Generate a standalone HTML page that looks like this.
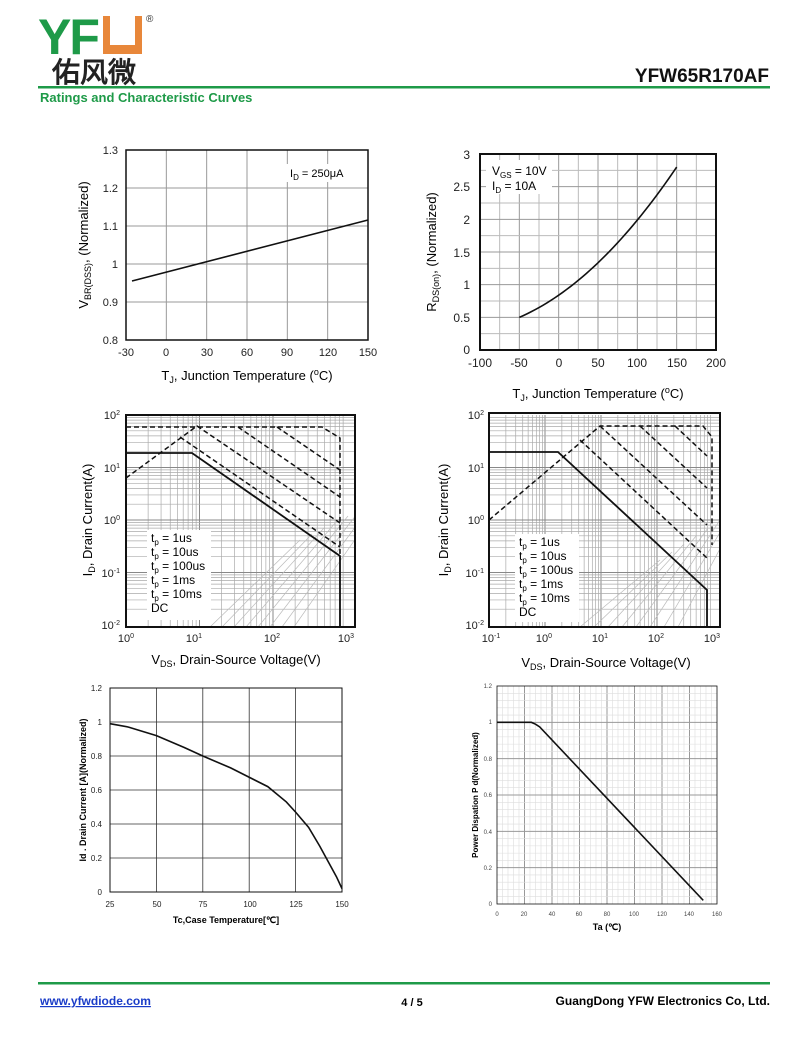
<!DOCTYPE html>
<html><head><meta charset="utf-8"><style>
body{margin:0;background:#fff;}
#w{position:relative;width:800px;height:1039px;overflow:hidden;font-family:"Liberation Sans",Arial,sans-serif;}
svg text{font-family:"Liberation Sans",Arial,sans-serif;}
</style></head><body><div id="w">
<svg id="s" width="800" height="1039" viewBox="0 0 800 1039" xmlns="http://www.w3.org/2000/svg">
<defs>
<clipPath id="c3"><rect x="126" y="415" width="229" height="212"/></clipPath>
<clipPath id="c4"><rect x="489" y="413" width="231" height="214"/></clipPath>
</defs>
<!-- header -->
<text x="38" y="54" font-size="50" font-weight="bold" fill="#1e9a48" letter-spacing="-2">YF</text>
<rect x="103" y="16" width="39" height="38" fill="#e8873a"/>
<rect x="110" y="16" width="25" height="29" fill="#fff"/>
<text x="146" y="22" font-size="10" fill="#333">®</text>
<text x="52" y="82" font-size="28" font-weight="bold" fill="#222" font-family="'Noto Sans CJK SC',sans-serif">佑风微</text>
<text x="769" y="82" font-size="19" font-weight="bold" fill="#111" text-anchor="end">YFW65R170AF</text>
<rect x="38" y="86" width="732" height="2.5" fill="#1e9a48"/>
<text x="40" y="102" font-size="13" font-weight="bold" fill="#1e9a48">Ratings and Characteristic Curves</text>
<!-- footer -->
<rect x="38" y="982" width="732" height="2.5" fill="#1e9a48"/>
<text x="40" y="1005" font-size="12" font-weight="bold" fill="#1a3cc8" text-decoration="underline">www.yfwdiode.com</text>
<text x="412" y="1006" font-size="11" font-weight="bold" text-anchor="middle">4 / 5</text>
<text x="770" y="1005" font-size="12" font-weight="bold" text-anchor="end">GuangDong YFW Electronics Co, Ltd.</text>
<g id="g"></g>

<!-- chart1 labels -->
<g font-size="11" fill="#222" text-anchor="end">
<text x="118" y="154">1.3</text><text x="118" y="192">1.2</text><text x="118" y="230">1.1</text><text x="118" y="268">1</text><text x="118" y="306">0.9</text><text x="118" y="344">0.8</text></g>
<g font-size="11" fill="#222" text-anchor="middle">
<text x="126" y="356">-30</text><text x="166" y="356">0</text><text x="207" y="356">30</text><text x="247" y="356">60</text><text x="287" y="356">90</text><text x="328" y="356">120</text><text x="368" y="356">150</text></g>
<text x="247" y="380" font-size="13" text-anchor="middle">T<tspan font-size="9" dy="3">J</tspan><tspan dy="-3">, Junction Temperature (</tspan><tspan font-size="9" dy="-5">o</tspan><tspan dy="5">C)</tspan></text>
<text transform="translate(88,245) rotate(-90)" font-size="13" text-anchor="middle">V<tspan font-size="9" dy="3">BR(DSS)</tspan><tspan dy="-3">, (Normalized)</tspan></text>
<rect x="286" y="164" width="76" height="18" fill="#fff"/>
<text x="290" y="177" font-size="11">I<tspan font-size="8" dy="3">D</tspan><tspan dy="-3"> = 250μA</tspan></text>

<!-- chart2 labels -->
<g font-size="12" fill="#222" text-anchor="end">
<text x="470" y="159">3</text><text x="470" y="191">2.5</text><text x="470" y="224">2</text><text x="470" y="257">1.5</text><text x="470" y="289">1</text><text x="470" y="322">0.5</text><text x="470" y="354">0</text></g>
<g font-size="12" fill="#222" text-anchor="middle">
<text x="480" y="367">-100</text><text x="519" y="367">-50</text><text x="559" y="367">0</text><text x="598" y="367">50</text><text x="637" y="367">100</text><text x="677" y="367">150</text><text x="716" y="367">200</text></g>
<text x="598" y="398" font-size="13" text-anchor="middle">T<tspan font-size="9" dy="3">J</tspan><tspan dy="-3">, Junction Temperature (</tspan><tspan font-size="9" dy="-5">o</tspan><tspan dy="5">C)</tspan></text>
<text transform="translate(436,252) rotate(-90)" font-size="13" text-anchor="middle">R<tspan font-size="9" dy="3">DS(on)</tspan><tspan dy="-3">, (Normalized)</tspan></text>
<rect x="486" y="160" width="66" height="34" fill="#fff"/>
<text x="492" y="175" font-size="12">V<tspan font-size="8" dy="3">GS</tspan><tspan dy="-3"> = 10V</tspan></text>
<text x="492" y="190" font-size="12">I<tspan font-size="8" dy="3">D</tspan><tspan dy="-3"> = 10A</tspan></text>

<!-- chart3 labels -->
<g font-size="11" fill="#222" text-anchor="end">
<text x="120" y="419">10<tspan font-size="7" dy="-4">2</tspan></text><text x="120" y="472">10<tspan font-size="7" dy="-4">1</tspan></text><text x="120" y="524">10<tspan font-size="7" dy="-4">0</tspan></text><text x="120" y="577">10<tspan font-size="7" dy="-4">-1</tspan></text><text x="120" y="629">10<tspan font-size="7" dy="-4">-2</tspan></text></g>
<g font-size="11" fill="#222" text-anchor="middle">
<text x="126" y="642">10<tspan font-size="7" dy="-4">0</tspan></text><text x="194" y="642">10<tspan font-size="7" dy="-4">1</tspan></text><text x="272" y="642">10<tspan font-size="7" dy="-4">2</tspan></text><text x="346" y="642">10<tspan font-size="7" dy="-4">3</tspan></text></g>
<text x="236" y="664" font-size="13" text-anchor="middle">V<tspan font-size="9" dy="3">DS</tspan><tspan dy="-3">, Drain-Source Voltage(V)</tspan></text>
<text transform="translate(92,520) rotate(-90)" font-size="13" text-anchor="middle">I<tspan font-size="9" dy="3">D</tspan><tspan dy="-3">, Drain Current(A)</tspan></text>

<!-- chart4 labels -->
<g font-size="11" fill="#222" text-anchor="end">
<text x="484" y="419">10<tspan font-size="7" dy="-4">2</tspan></text><text x="484" y="472">10<tspan font-size="7" dy="-4">1</tspan></text><text x="484" y="524">10<tspan font-size="7" dy="-4">0</tspan></text><text x="484" y="577">10<tspan font-size="7" dy="-4">-1</tspan></text><text x="484" y="629">10<tspan font-size="7" dy="-4">-2</tspan></text></g>
<g font-size="11" fill="#222" text-anchor="middle">
<text x="491" y="642">10<tspan font-size="7" dy="-4">-1</tspan></text><text x="544" y="642">10<tspan font-size="7" dy="-4">0</tspan></text><text x="600" y="642">10<tspan font-size="7" dy="-4">1</tspan></text><text x="656" y="642">10<tspan font-size="7" dy="-4">2</tspan></text><text x="712" y="642">10<tspan font-size="7" dy="-4">3</tspan></text></g>
<text x="606" y="667" font-size="13" text-anchor="middle">V<tspan font-size="9" dy="3">DS</tspan><tspan dy="-3">, Drain-Source Voltage(V)</tspan></text>
<text transform="translate(448,520) rotate(-90)" font-size="13" text-anchor="middle">I<tspan font-size="9" dy="3">D</tspan><tspan dy="-3">, Drain Current(A)</tspan></text>

<!-- chart5 labels -->
<g font-size="8" fill="#222" text-anchor="end">
<text x="102" y="691">1.2</text><text x="102" y="725">1</text><text x="102" y="759">0.8</text><text x="102" y="793">0.6</text><text x="102" y="827">0.4</text><text x="102" y="861">0.2</text><text x="102" y="895">0</text></g>
<g font-size="8" fill="#222" text-anchor="middle">
<text x="110" y="907">25</text><text x="157" y="907">50</text><text x="203" y="907">75</text><text x="250" y="907">100</text><text x="296" y="907">125</text><text x="342" y="907">150</text></g>
<text x="226" y="923" font-size="9" font-weight="bold" text-anchor="middle">Tc,Case Temperature[℃]</text>
<text transform="translate(86,790) rotate(-90)" font-size="9" font-weight="bold" text-anchor="middle">Id . Drain Current [A](Normalized)</text>

<!-- chart6 labels -->
<g font-size="6" fill="#444" text-anchor="end">
<text x="492" y="688">1.2</text><text x="492" y="724">1</text><text x="492" y="761">0.8</text><text x="492" y="797">0.6</text><text x="492" y="834">0.4</text><text x="492" y="870">0.2</text><text x="492" y="906">0</text></g>
<g font-size="6" fill="#444" text-anchor="middle">
<text x="497" y="916">0</text><text x="524" y="916">20</text><text x="552" y="916">40</text><text x="579" y="916">60</text><text x="607" y="916">80</text><text x="634" y="916">100</text><text x="662" y="916">120</text><text x="689" y="916">140</text><text x="717" y="916">160</text></g>
<text x="607" y="930" font-size="9" font-weight="bold" text-anchor="middle">Ta (℃)</text>
<text transform="translate(478,795) rotate(-90)" font-size="8" font-weight="bold" text-anchor="middle">Power Dispation  P d(Normalized)</text>
<g id="leg">
<rect x="147" y="530" width="64" height="90" fill="#fff"/>
<g font-size="12"><text x="151" y="542">t<tspan font-size="8" dy="3">p</tspan><tspan dy="-3"> = 1us</tspan></text><text x="151" y="556">t<tspan font-size="8" dy="3">p</tspan><tspan dy="-3"> = 10us</tspan></text><text x="151" y="570">t<tspan font-size="8" dy="3">p</tspan><tspan dy="-3"> = 100us</tspan></text><text x="151" y="584">t<tspan font-size="8" dy="3">p</tspan><tspan dy="-3"> = 1ms</tspan></text><text x="151" y="598">t<tspan font-size="8" dy="3">p</tspan><tspan dy="-3"> = 10ms</tspan></text><text x="151" y="612">DC</text></g>
<rect x="515" y="534" width="64" height="88" fill="#fff"/>
<g font-size="12"><text x="519" y="546">t<tspan font-size="8" dy="3">p</tspan><tspan dy="-3"> = 1us</tspan></text><text x="519" y="560">t<tspan font-size="8" dy="3">p</tspan><tspan dy="-3"> = 10us</tspan></text><text x="519" y="574">t<tspan font-size="8" dy="3">p</tspan><tspan dy="-3"> = 100us</tspan></text><text x="519" y="588">t<tspan font-size="8" dy="3">p</tspan><tspan dy="-3"> = 1ms</tspan></text><text x="519" y="602">t<tspan font-size="8" dy="3">p</tspan><tspan dy="-3"> = 10ms</tspan></text><text x="519" y="616">DC</text></g>
</g>
</svg>
<script>
var g=document.getElementById('g'),h='';
function L(x1,y1,x2,y2,c,w,d){h+='<line x1="'+x1+'" y1="'+y1+'" x2="'+x2+'" y2="'+y2+'" stroke="'+c+'" stroke-width="'+w+'"'+(d?' stroke-dasharray="'+d+'"':'')+'/>';}
function P(pts,c,w,d){h+='<polyline fill="none" points="'+pts.map(p=>p.join(',')).join(' ')+'" stroke="'+c+'" stroke-width="'+w+'"'+(d?' stroke-dasharray="'+d+'"':'')+'/>';}
function R(x1,y1,x2,y2,w){h+='<rect x="'+x1+'" y="'+y1+'" width="'+(x2-x1)+'" height="'+(y2-y1)+'" fill="none" stroke="#111" stroke-width="'+w+'"/>';}
var i;
for(i=1;i<6;i++)L(126+i*242/6,150,126+i*242/6,340,'#999',1);
for(i=1;i<5;i++)L(126,150+i*38,368,150+i*38,'#999',1);
R(126,150,368,340,1.5);
L(132,281,368,220,'#111',1.6);
for(i=1;i<12;i++)L(480+i*236/12,154,480+i*236/12,350,i%2?'#bbb':'#999',1);
for(i=1;i<12;i++)L(480,154+i*196/12,716,154+i*196/12,i%2?'#bbb':'#999',1);
R(480,154,716,350,2);
var pts=[];for(var t=-50;t<=150;t+=5){var r=0.5+0.0052*(t+50)+0.0000315*(t+50)*(t+50);pts.push([480+(t+100)/300*236,350-r/3*196]);}
P(pts,'#111',1.6);
function lg(x0,xd,nd,xr,y0,yd){
 for(var d=0;d<nd;d++)for(var k=1;k<10;k++){var x=x0+xd*(d+Math.log10(k));if(x>x0&&x<xr)L(x,415,x,627,k==1?'#888':'#aaa',k==1?1:0.7);}
 for(var d=0;d<4;d++)for(var k=1;k<10;k++){var y=y0-yd*(d+Math.log10(k));if(k>1||d>0)L(x0,y,xr,y,k==1?'#888':'#aaa',k==1?1:0.7);}
}
lg(126,73.5,3,355,625,52.5);
h+='<g clip-path="url(#c3)">';
for(i=0;i<8;i++)L(210+i*12,627,300+i*12,540-i*6,'#bbb',0.7);
h+='</g>';
R(126,415,355,627,2);
P([[126,453],[192,453],[340,556],[340,627]],'#111',1.8);
var D='5,3';
P([[126,427],[322,427],[340,438],[340,560]],'#111',1.5,D);
P([[126,478],[197,426],[340,523]],'#111',1.5,D);
P([[180,437],[340,547]],'#111',1.5,D);
P([[238,427],[340,497]],'#111',1.5,D);
P([[277,427],[340,470]],'#111',1.5,D);
lg(489,56,4,720,625,52.5);
h+='<g clip-path="url(#c4)">';
for(i=0;i<8;i++)L(580+i*14,627,660+i*12,560-i*8,'#bbb',0.7);
h+='</g>';
R(489,413,720,627,2);
P([[489,452],[558,452],[707,590],[707,627]],'#111',1.8);
P([[489,520],[600,426],[703,426],[712,437],[712,545]],'#111',1.5,D);
P([[580,440],[707,558]],'#111',1.5,D);
P([[600,426],[707,525]],'#111',1.5,D);
P([[640,426],[707,488]],'#111',1.5,D);
P([[675,426],[707,456]],'#111',1.5,D);
for(i=1;i<5;i++)L(110+i*46.4,688,110+i*46.4,892,'#333',0.8);
for(i=1;i<6;i++)L(110,688+i*34,342,688+i*34,'#333',0.8);
R(110,688,342,892,1);
var c5=[[25,.99],[35,.97],[50,.92],[65,.85],[75,.8],[90,.73],[100,.675],[110,.62],[120,.53],[125,.47],[132,.38],[138,.27],[143,.17],[147,.09],[150,.02]];
P(c5.map(p=>[110+(p[0]-25)/125*232,892-p[1]/1.2*204]),'#111',1.6);
for(i=1;i<40;i++)L(497+i*5.5,686,497+i*5.5,904,i%5?'#ddd':'#999',i%5?0.6:1);
for(i=1;i<30;i++)L(497,686+i*218/30,717,686+i*218/30,i%5?'#ddd':'#999',i%5?0.6:1);
R(497,686,717,904,0.8);
var c6=[[0,1],[25,1],[28,.99],[31,.975],[150,.02]];
P(c6.map(p=>[497+p[0]/160*220,904-p[1]/1.2*218]),'#111',1.6);
g.innerHTML=h;
</script>
</div></body></html>
